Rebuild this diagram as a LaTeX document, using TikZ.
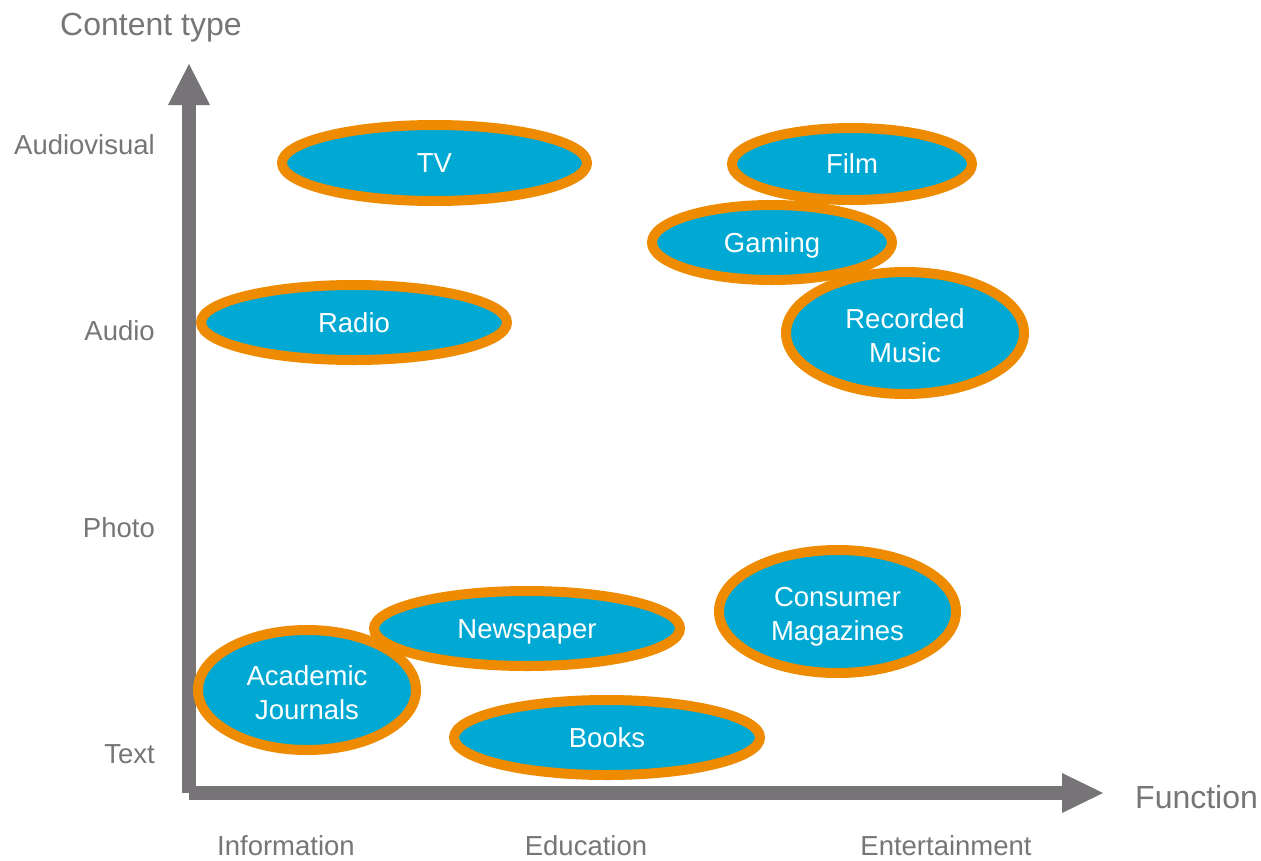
\documentclass[tikz,border=0pt]{standalone}
\usepackage{fontspec}
\setmainfont{Liberation Sans}
\usetikzlibrary{shapes.geometric}
\definecolor{axisgray}{HTML}{767477}
\definecolor{labelgray}{HTML}{767676}
\definecolor{bubblefill}{HTML}{00A9D4}
\definecolor{bubbleline}{HTML}{EE8B00}
\tikzset{
  bubble/.style={ellipse, draw=bubbleline, fill=bubblefill, line width=10pt, inner sep=0pt,
    text=white, align=center, font=\fontsize{27.5}{34}\selectfont},
  oneline/.style={text height=19.7pt, text depth=0pt},
  twoline/.style={text height=58pt, text depth=0pt},
  axislabel/.style={text=labelgray, inner sep=0pt, font=\fontsize{27.5}{34}\selectfont},
  axistitle/.style={text=labelgray, inner sep=0pt, font=\fontsize{32}{38}\selectfont},
  axisshape/.style={fill=axisgray, draw=none}
}
\begin{document}
\begin{tikzpicture}[x=1pt,y=-1pt]
\useasboundingbox (0,0) rectangle (1261,860);
% axes
\fill[axisshape] (182,105) rectangle (196,793);
\fill[axisshape] (168,105) -- (189,64) -- (210,105) -- cycle;
\fill[axisshape] (189,786) rectangle (1062,800);
\fill[axisshape] (1062,773) -- (1103,793) -- (1062,813) -- cycle;
% axis titles
\node[axistitle, anchor=base west] (ytitle) at (60,35) {Content type};
\node[axistitle, anchor=base west] (xtitle) at (1135,808.5) {Function};
% y labels
\node[axislabel, anchor=base east] (av) at (155,154) {Audiovisual};
\node[axislabel, anchor=base east] (au) at (155,340) {Audio};
\node[axislabel, anchor=base east] (ph) at (155,537) {Photo};
\node[axislabel, anchor=base east] (tx) at (155,763) {Text};
% x labels
\node[axislabel, anchor=base] (inf) at (286,855) {Information};
\node[axislabel, anchor=base] (edu) at (586,855) {Education};
\node[axislabel, anchor=base] (ent) at (946,855) {Entertainment};
% bubbles
\node[bubble, oneline, minimum width=305pt, minimum height=76pt] (tv) at (434.5,163) {TV};
\node[bubble, oneline, minimum width=240pt, minimum height=72pt] (film) at (852,164) {Film};
\node[bubble, oneline, minimum width=240pt, minimum height=75pt] (gaming) at (772,242.5) {Gaming};
\node[bubble, twoline, minimum width=238pt, minimum height=122pt] (music) at (905,333) {Recorded\\Music};
\node[bubble, oneline, minimum width=306pt, minimum height=75pt] (radio) at (354,322.5) {Radio};
\node[bubble, twoline, minimum width=237pt, minimum height=123pt] (mag) at (837.5,611.5) {Consumer\\Magazines};
\node[bubble, oneline, minimum width=306pt, minimum height=75pt] (news) at (527,628.5) {Newspaper};
\node[bubble, twoline, minimum width=218pt, minimum height=120pt] (acad) at (307,690) {Academic\\Journals};
\node[bubble, oneline, minimum width=306pt, minimum height=75pt] (books) at (607,737.5) {Books};
\end{tikzpicture}
\end{document}
